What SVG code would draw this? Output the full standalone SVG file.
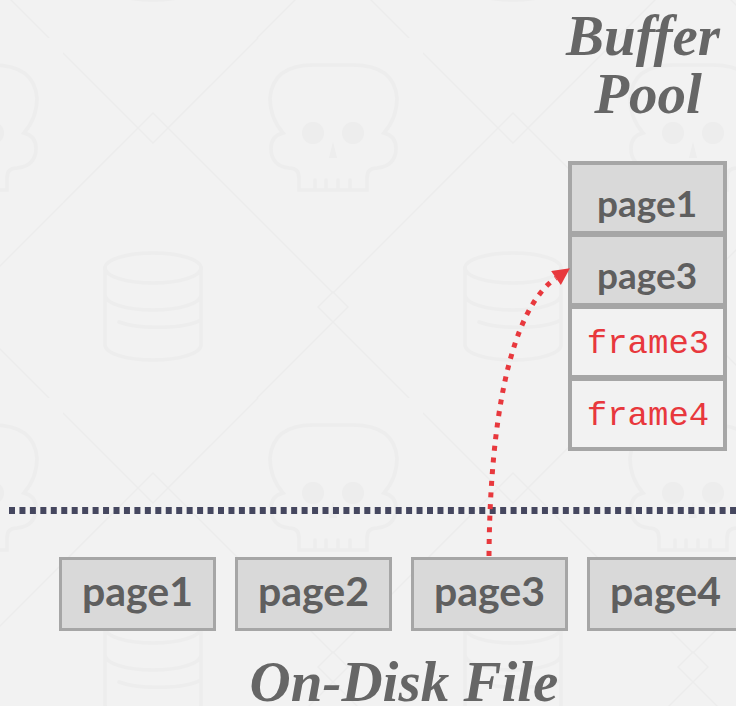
<svg xmlns="http://www.w3.org/2000/svg" width="736" height="706" viewBox="0 0 736 706">
  <style>
    .bg-line { fill: none; stroke: #ececec; stroke-width: 1.4; }
    .bg-icon { fill: none; stroke: #ededed; stroke-width: 3.5; stroke-linecap: round; }
    .title { font-family: "Liberation Serif", "Times New Roman", serif; font-weight: bold; font-style: italic; font-size: 57px; fill: #666666; text-anchor: middle; }
    .page-box { fill: #d9d9d9; stroke: #a6a6a6; stroke-width: 3; }
    .cell-page { fill: #d9d9d9; stroke: #a6a6a6; stroke-width: 4; }
    .cell-free { fill: #f2f2f2; stroke: #a6a6a6; stroke-width: 4; }
    .page-text { font-family: Lato, "Liberation Sans", sans-serif; font-weight: bold; fill: #5f5f5f; text-anchor: middle; }
    .frame-text { font-family: "Liberation Mono", "DejaVu Sans Mono", monospace; font-size: 34px; fill: #e8383d; text-anchor: middle; }
  </style>
  <defs>
    <pattern id="bgpat" x="63" y="38" width="360" height="360" patternUnits="userSpaceOnUse">
      <rect width="360" height="360" fill="#f2f2f2"/>
      <polygon class="bg-line" points="90,75 105,90 90,105 75,90"/>
      <polygon class="bg-line" points="270,254 285,269 270,284 255,269"/>
      <path class="bg-line" d="M0,15 L75,90 M270,284 L346,360 M105,90 L270,255 M195,0 L105,90 M270,284 L194,360 M75,90 L0,165 M360,165 L270,255"/>
      <g class="bg-icon">
        <ellipse cx="90" cy="230" rx="48" ry="15"/>
        <path d="M42,230 L42,307 M138,230 L138,307 M42,307 A48,15 0 0 0 138,307 M42,257 A48,15 0 0 0 138,257 M56,284 A48,13 0 0 0 138,282"/>
        <path d="M236,152 L236,140 Q236,130 226,130 Q208,128 208,110 Q208,98 220,95 Q207,80 207,60 Q210,27 250,27 L290,27 Q331,27 334,60 Q334,80 321,95 Q333,98 333,110 Q333,128 314,130 Q304,130 304,140 L304,152 Z"/>
        <path d="M252,142 L252,150 M263,142 L263,150 M275,142 L275,150 M287,142 L287,150"/>
      </g>
      <circle cx="250" cy="95" r="11" fill="#ededed"/>
      <circle cx="290" cy="95" r="11" fill="#ededed"/>
      <polygon points="270,104 274,120 266,120" fill="#ededed"/>
    </pattern>
    <marker id="arrow-red" markerUnits="userSpaceOnUse" markerWidth="18" markerHeight="17" viewBox="0 0 17 17" refX="0" refY="8.5" orient="auto">
      <path d="M0,0 L17,8.5 L0,17 Z" fill="#e8383d"/>
    </marker>
  </defs>

  <rect id="background" width="736" height="706" fill="url(#bgpat)"/>

  <g id="title-buffer-pool">
    <text class="title" x="643" y="55">Buffer</text>
    <text class="title" x="648" y="113">Pool</text>
  </g>

  <g id="buffer-pool">
    <g id="bp-page1">
      <rect class="cell-page" x="570" y="163" width="155" height="70"/>
      <text class="page-text" x="647" y="217" font-size="37">page1</text>
    </g>
    <g id="bp-page3">
      <rect class="cell-page" x="570" y="235" width="155" height="70"/>
      <text class="page-text" x="647" y="289" font-size="37">page3</text>
    </g>
    <g id="bp-frame3">
      <rect class="cell-free" x="570" y="307" width="155" height="70"/>
      <text class="frame-text" x="648" y="353">frame3</text>
    </g>
    <g id="bp-frame4">
      <rect class="cell-free" x="570" y="379" width="155" height="70"/>
      <text class="frame-text" x="648" y="425">frame4</text>
    </g>
  </g>

  <g id="disk-page1">
    <rect class="page-box" x="60.5" y="558.5" width="154" height="71"/>
    <text class="page-text" x="137.5" y="606" font-size="41">page1</text>
  </g>
  <g id="disk-page2">
    <rect class="page-box" x="236.5" y="558.5" width="154" height="71"/>
    <text class="page-text" x="313.5" y="606" font-size="41">page2</text>
  </g>
  <g id="disk-page3">
    <rect class="page-box" x="412.5" y="558.5" width="154" height="71"/>
    <text class="page-text" x="489.5" y="606" font-size="41">page3</text>
  </g>
  <g id="disk-page4">
    <rect class="page-box" x="588.5" y="558.5" width="154" height="71"/>
    <text class="page-text" x="665.5" y="606" font-size="41">page4</text>
  </g>

  <g id="title-on-disk">
    <text class="title" x="404" y="701" font-size="56">On-Disk File</text>
  </g>

  <g id="connectors">
    <line x1="9" y1="510.5" x2="736" y2="510.5" stroke="#45475f" stroke-width="7" stroke-dasharray="6 4.45"/>
    <path d="M489,556 C490,420 510,310 556,278" fill="none" stroke="#e8383d" stroke-width="5" stroke-dasharray="5 6.7" marker-end="url(#arrow-red)"/>
  </g>
</svg>
